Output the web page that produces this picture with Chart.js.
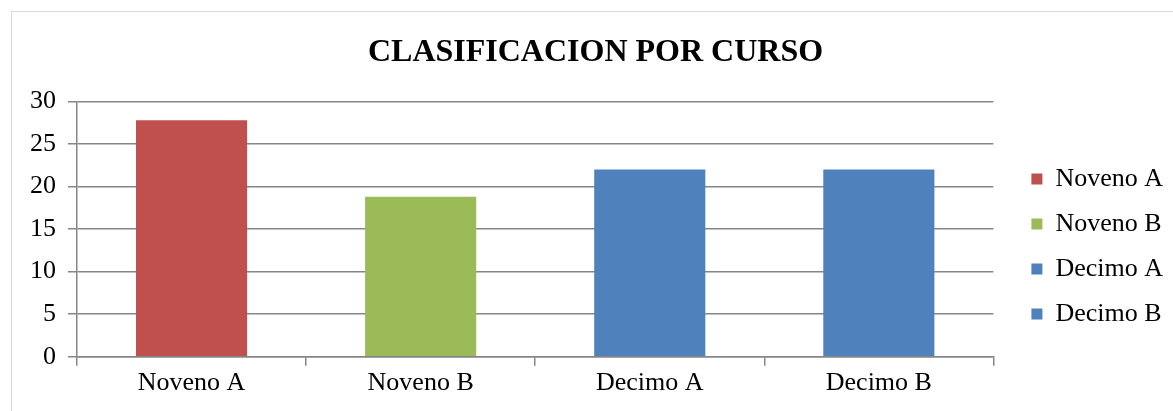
<!DOCTYPE html>
<html>
<head>
<meta charset="utf-8">
<script src="https://cdn.jsdelivr.net/npm/chart.js@4/dist/chart.umd.min.js"></script>
<style>
  html, body { margin: 0; padding: 0; background: #fff; }
  #frame {
    position: absolute; left: 11px; top: 11px;
    width: 1162px; height: 400px;
    border-left: 1px solid #d9d9d9; border-top: 1px solid #d9d9d9;
  }
  #chart { display: block; }
</style>
</head>
<body>
<div id="frame"><canvas id="chart" width="1162" height="400"></canvas></div>
<script>
// datos
const cursos = ["Noveno A", "Noveno B", "Decimo A", "Decimo B"];
const estudiantes = [27.8, 18.8, 22, 22];
const colores = ["#C0504D", "#9BBB59", "#4F81BD", "#4F81BD"];
const ticksY = [0, 5, 10, 15, 20, 25, 30];

const fuente = "'Liberation Serif', 'Times New Roman', serif";
const gris = "#868686";

const ctx = document.getElementById("chart").getContext("2d");
const chart = new Chart(ctx, {
  type: "bar",
  data: {
    labels: cursos,
    datasets: [{
      label: "Clasificacion",
      data: estudiantes,
      backgroundColor: colores,
      borderWidth: 0,
      categoryPercentage: 0.97,
      barPercentage: 0.5,
    }],
  },
  options: {
    responsive: false,
    animation: false,
    layout: { padding: { left: 6, right: 1, top: 0, bottom: 11 } },
    plugins: {
      title: {
        display: true,
        text: "CLASIFICACION POR CURSO",
        color: "#000",
        font: { family: fuente, size: 32, weight: "bold" },
        padding: { top: 22, bottom: 29 },
      },
      legend: {
        position: "right",
        // titulo vacio solo para bajar un poco la leyenda
        title: { display: true, text: "", color: "#000", font: { size: 20 }, padding: { top: 56, bottom: 0 } },
        labels: {
          color: "#000",
          font: { family: fuente, size: 26 },
          boxWidth: 11,
          boxHeight: 11,
          padding: 19,
          generateLabels: (c) => cursos.map((n, i) => ({
            text: n,
            fillStyle: colores[i],
            strokeStyle: colores[i],
            fontColor: "#000",
            lineWidth: 0,
            hidden: false,
            index: i,
          })),
        },
      },
      tooltip: { enabled: false },
    },
    scales: {
      x: {
        offset: true,
        grid: {
          display: true,
          drawOnChartArea: false,
          offset: true,
          color: gris,
          lineWidth: 1.5,
          tickLength: 9,
        },
        border: { color: gris, width: 1.5 },
        ticks: { color: "#000", font: { family: fuente, size: 26 }, padding: 2 },
      },
      y: {
        min: 0,
        max: 30,
        afterBuildTicks: (axis) => { axis.ticks = ticksY.map((v) => ({ value: v })); },
        grid: { color: gris, lineWidth: 1.5, tickLength: 9 },
        border: { color: gris, width: 1.5 },
        ticks: { color: "#000", font: { family: fuente, size: 26 }, padding: 12 },
      },
      // eje vacio para separar el grafico de la leyenda
      hueco: {
        position: "right",
        display: true,
        grid: { display: false },
        border: { display: false },
        ticks: { display: false },
        afterFit: (s) => { s.width = 19; },
      },
    },
  },
});
</script>
</body>
</html>
